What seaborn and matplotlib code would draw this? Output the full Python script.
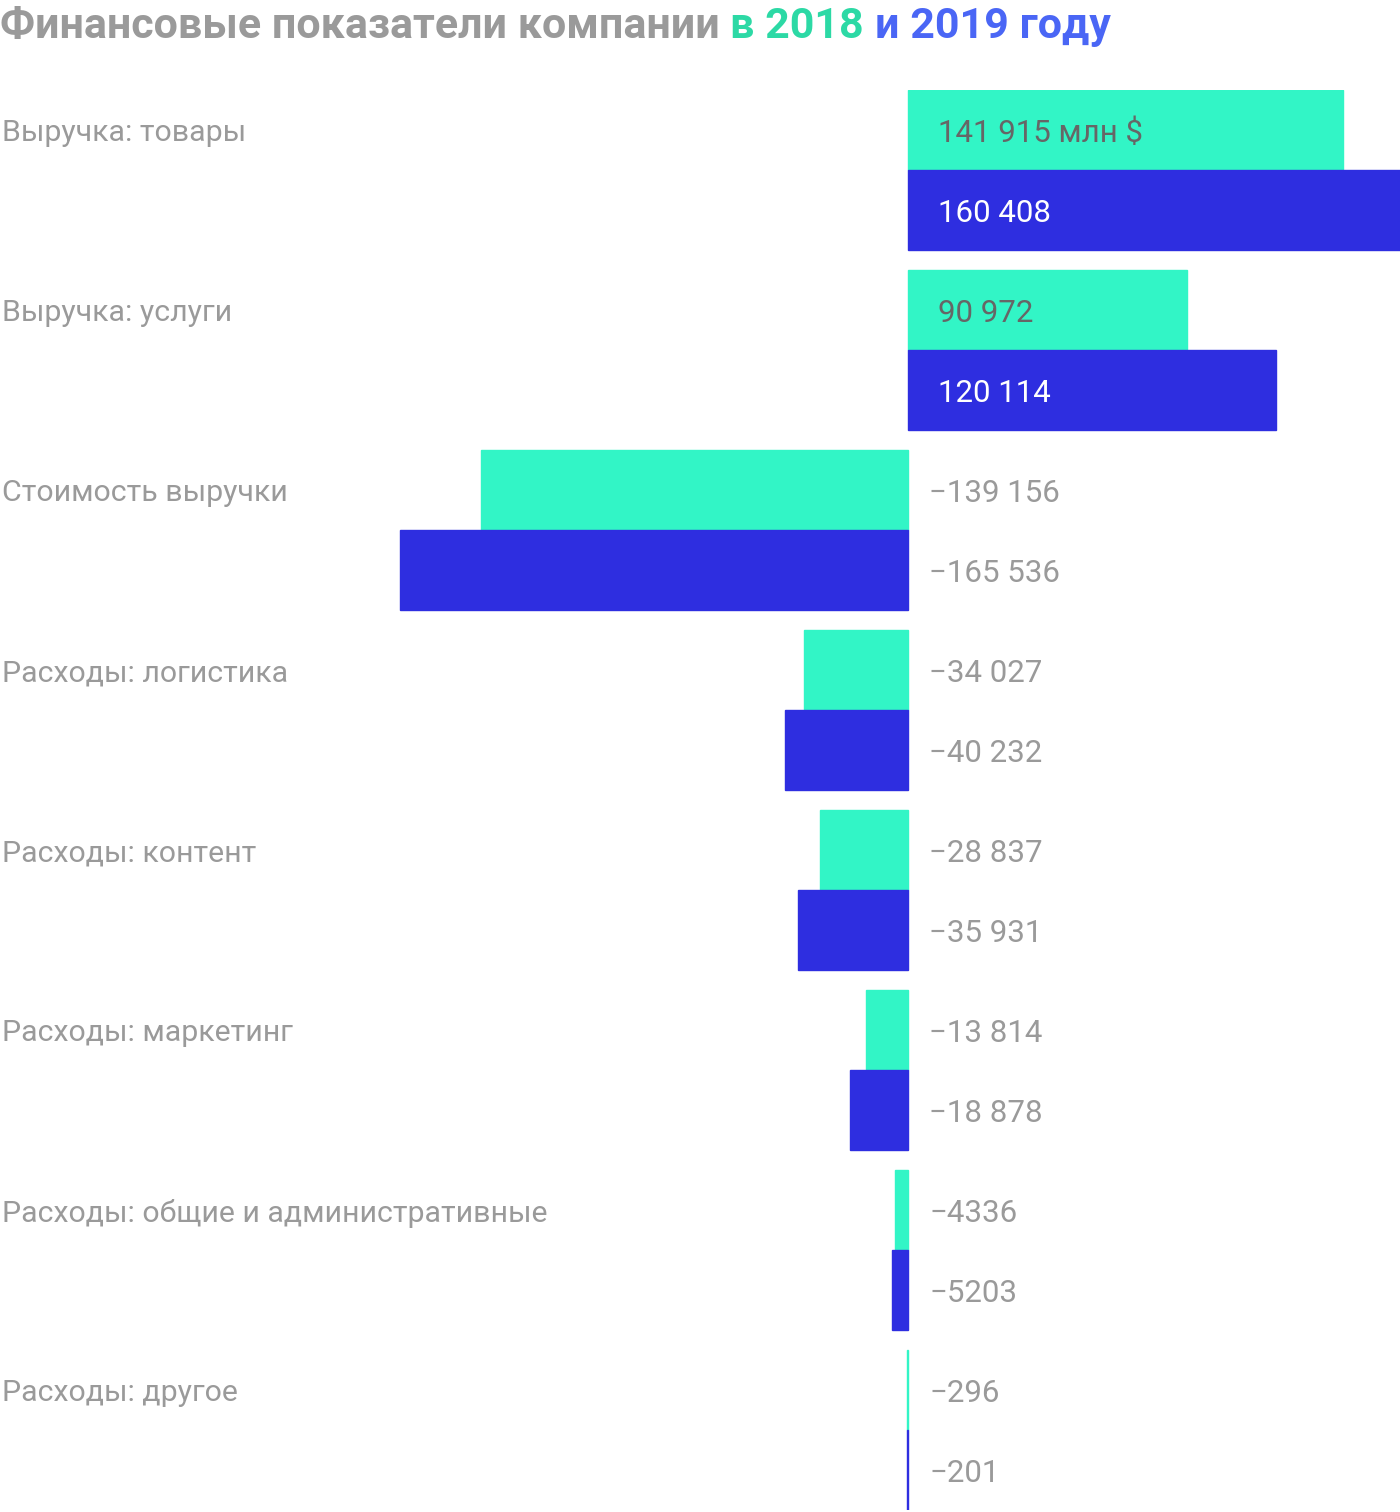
import matplotlib
matplotlib.use("Agg")
import matplotlib.pyplot as plt
import matplotlib.transforms as mtransforms
import seaborn as sns
import pandas as pd

categories = [
    "Выручка: товары",
    "Выручка: услуги",
    "Стоимость выручки",
    "Расходы: логистика",
    "Расходы: контент",
    "Расходы: маркетинг",
    "Расходы: общие и административные",
    "Расходы: другое",
]
values_2018 = [141915, 90972, -139156, -34027, -28837, -13814, -4336, -296]
values_2019 = [160408, 120114, -165536, -40232, -35931, -18878, -5203, -201]
labels_2018 = ["141 915 млн $", "90 972", "−139 156", "−34 027", "−28 837", "−13 814", "−4336", "−296"]
labels_2019 = ["160 408", "120 114", "−165 536", "−40 232", "−35 931", "−18 878", "−5203", "−201"]
years = ["2018", "2019"]

TEAL = "#32F5C6"
BLUE = "#2E2EE0"
TITLE_GRAY = "#9a9a9a"
TITLE_GREEN = "#2CD9A5"
TITLE_BLUE = "#4A66F5"
LABEL_GRAY = "#9a9a9a"
FONT = "Roboto"

df = pd.DataFrame({
    "category": categories * 2,
    "value": values_2018 + values_2019,
    "year": [years[0]] * len(categories) + [years[1]] * len(categories),
})

sns.set_theme(style="white")
plt.rcParams["font.family"] = [FONT, "DejaVu Sans"]

W, H = 1400, 1512
fig = plt.figure(figsize=(W / 100, H / 100), dpi=100)
ax = fig.add_axes([0, (H - 1510) / H, 1, (1510 - 90) / H])

BAR_W = 160 / 180
sns.barplot(data=df, x="value", y="category", hue="year", order=categories,
            hue_order=years, palette=[TEAL, BLUE], orient="h", width=BAR_W,
            saturation=1, linewidth=0, legend=False, ax=ax)

n = len(categories)
xmax = 160408
xmin = -xmax * 908 / (1400 - 908)
ax.set_xlim(xmin, xmax)
ax.set_ylim(n - 1 + BAR_W / 2, -BAR_W / 2)
ax.axis("off")

patches = list(ax.patches)
for p in patches:
    p.set_edgecolor(p.get_facecolor())
    p.set_linewidth(1.0)

# value labels from the bars themselves
all_labels = {years[0]: labels_2018, years[1]: labels_2019}
all_vals = {years[0]: values_2018, years[1]: values_2019}
for k, yr in enumerate(years):
    for i in range(n):
        p = patches[k * n + i]
        yc = p.get_y() + p.get_height() / 2
        v = all_vals[yr][i]
        if v >= 0:
            color = "#666666" if yr == years[0] else "white"
            off = 30
        else:
            color = LABEL_GRAY
            off = 21
        tr = mtransforms.offset_copy(ax.transData, fig=fig, x=off, y=0, units="dots")
        ax.text(0, yc, all_labels[yr][i], transform=tr, ha="left", va="center_baseline",
                fontsize=22.5, color=color, family=FONT)

# category labels aligned with the top bar of each pair
lab_tr = mtransforms.blended_transform_factory(ax.transAxes, ax.transData)
for i, cat in enumerate(categories):
    p = patches[i]
    yc = p.get_y() + p.get_height() / 2
    ax.text(2 / W, yc, cat, transform=lab_tr, ha="left", va="center_baseline",
            fontsize=21.8, color=LABEL_GRAY, family=FONT)

# multi-coloured title
fig.canvas.draw()
renderer = fig.canvas.get_renderer()
parts = [("Финансовые показатели компании ", TITLE_GRAY),
         ("в 2018 ", TITLE_GREEN),
         ("и 2019 году", TITLE_BLUE)]
x = 0
for txt, col in parts:
    t = fig.text(x / W, 1 - 38 / H, txt, color=col, fontsize=31, fontweight="bold",
                 family=FONT, ha="left", va="baseline")
    bb = t.get_window_extent(renderer=renderer)
    x = bb.x1

fig.savefig("out.png", dpi=100)
